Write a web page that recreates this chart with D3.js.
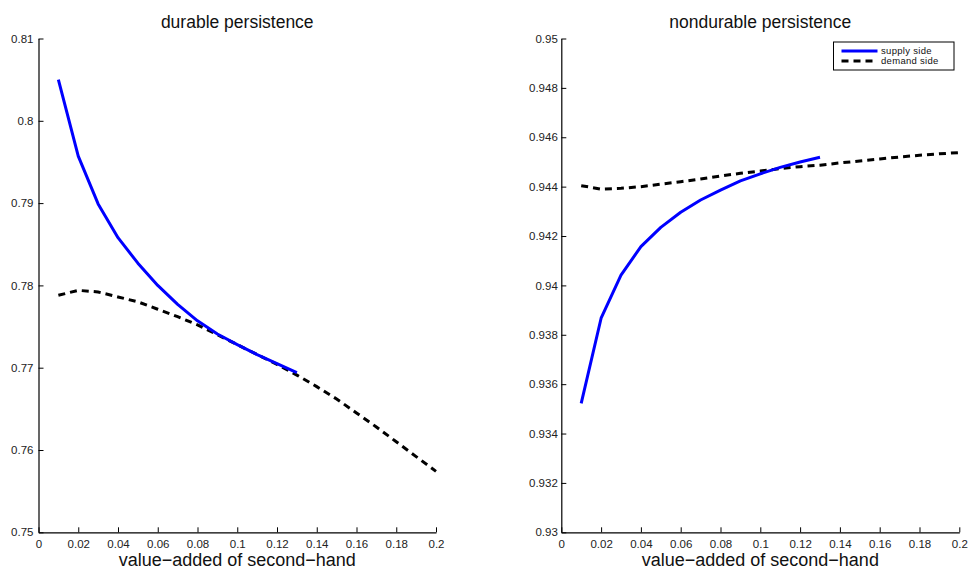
<!DOCTYPE html>
<html>
<head>
<meta charset="utf-8">
<script src="https://cdn.jsdelivr.net/npm/d3@7"></script>
<style>
  body { margin: 0; background: #fff; }
  svg { display: block; font-family: "Liberation Sans", Arial, sans-serif; }
</style>
</head>
<body>
<svg id="chart" width="972" height="571"></svg>
<script>
// x values (value-added of second-hand)
var xSupply = [0.01, 0.02, 0.03, 0.04, 0.05, 0.06, 0.07, 0.08, 0.09, 0.10, 0.11, 0.12, 0.13];
var xDemand = [0.01, 0.02, 0.03, 0.04, 0.05, 0.06, 0.07, 0.08, 0.09, 0.10,
               0.11, 0.12, 0.13, 0.14, 0.15, 0.16, 0.17, 0.18, 0.19, 0.20];

// durable persistence
var durSupply = [0.8050, 0.7957, 0.7899, 0.7858, 0.7827, 0.7800, 0.7777,
                 0.7757, 0.7741, 0.7728, 0.7716, 0.7705, 0.7694];
var durDemand = [0.7788, 0.7794, 0.7792, 0.7786, 0.7780, 0.7771, 0.7762, 0.7752, 0.7740, 0.7728,
                 0.7716, 0.7704, 0.7691, 0.7677, 0.7662, 0.7645, 0.7628, 0.7610, 0.7592, 0.7574];

// nondurable persistence
var nonSupply = [0.93522, 0.93867, 0.94042, 0.94157, 0.94235, 0.94296, 0.94346,
                 0.94386, 0.94423, 0.94452, 0.94478, 0.94500, 0.94519];
var nonDemand = [0.94404, 0.94390, 0.94393, 0.94400, 0.94410, 0.94420, 0.94431, 0.94443, 0.94454, 0.94463,
                 0.94473, 0.94481, 0.94487, 0.94496, 0.94504, 0.94512, 0.94520, 0.94527, 0.94533, 0.94538];

var xTicks = [0, 0.02, 0.04, 0.06, 0.08, 0.1, 0.12, 0.14, 0.16, 0.18, 0.2];
var durTicks = [0.75, 0.76, 0.77, 0.78, 0.79, 0.8, 0.81];
var nonTicks = [0.93, 0.932, 0.934, 0.936, 0.938, 0.94, 0.942, 0.944, 0.946, 0.948, 0.95];

var seriesNames = ["supply side", "demand side"];
var xLabel = "value\u2212added of second\u2212hand";

var svg = d3.select("#chart");
var yTop = 38.5, yBottom = 532.3;

var panels = [
  { title: "durable persistence", left: 38.5, right: 436, yDomain: [0.75, 0.81], yTicks: durTicks,
    fmt: d3.format(".2~f"), pad: 5, supply: durSupply, demand: durDemand, legend: false },
  { title: "nondurable persistence", left: 561.3, right: 959.3, yDomain: [0.93, 0.95], yTicks: nonTicks,
    fmt: d3.format(".3~f"), pad: 3.5, supply: nonSupply, demand: nonDemand, legend: true }
];

panels.forEach(function(p) {
  var x = d3.scaleLinear().domain([0, 0.2]).range([p.left, p.right]);
  var y = d3.scaleLinear().domain(p.yDomain).range([yBottom, yTop]);
  var g = svg.append("g");

  // axes, ticks pointing inward like matlab
  var xAxis = g.append("g")
    .attr("transform", "translate(0," + yBottom + ")")
    .call(d3.axisBottom(x).tickValues(xTicks).tickSizeInner(-5).tickSizeOuter(0)
      .tickPadding(8).tickFormat(d3.format("~g")));
  var yAxis = g.append("g")
    .attr("transform", "translate(" + p.left + ",0)")
    .call(d3.axisLeft(y).tickValues(p.yTicks).tickSizeInner(-5).tickSizeOuter(0)
      .tickPadding(p.pad).tickFormat(p.fmt));

  [xAxis, yAxis].forEach(function(a) {
    a.selectAll("path").attr("stroke", "#000").attr("stroke-width", 1.2);
    a.selectAll("line").attr("stroke", "#000").attr("stroke-width", 1);
    a.selectAll("text").attr("fill", "#222").style("font-size", "11.5px")
      .style("font-family", "Liberation Sans, Arial, sans-serif");
  });

  var line = d3.line().x(function(d) { return x(d[0]); }).y(function(d) { return y(d[1]); });

  g.append("path")
    .datum(d3.zip(xDemand, p.demand))
    .attr("d", line)
    .attr("fill", "none")
    .attr("stroke", "#000")
    .attr("stroke-width", 3)
    .attr("stroke-dasharray", "7,5");

  g.append("path")
    .datum(d3.zip(xSupply, p.supply))
    .attr("d", line)
    .attr("fill", "none")
    .attr("stroke", "#0000ff")
    .attr("stroke-width", 3)
    .attr("stroke-linejoin", "round");

  g.append("text")
    .attr("x", (p.left + p.right) / 2)
    .attr("y", 27.5)
    .attr("text-anchor", "middle")
    .style("font-size", "17.5px")
    .attr("fill", "#111")
    .text(p.title);

  g.append("text")
    .attr("x", (p.left + p.right) / 2)
    .attr("y", 566)
    .attr("text-anchor", "middle")
    .style("font-size", "18px")
    .attr("fill", "#111")
    .text(xLabel);

  if (p.legend) {
    var lg = g.append("g").attr("transform", "translate(833.5,42)");
    lg.append("rect").attr("width", 120.5).attr("height", 28)
      .attr("fill", "#fff").attr("stroke", "#000").attr("stroke-width", 1);
    seriesNames.forEach(function(name, i) {
      var yy = 9 + i * 10;
      lg.append("line").attr("x1", 8).attr("x2", 44).attr("y1", yy).attr("y2", yy)
        .attr("stroke", i == 0 ? "#0000ff" : "#000").attr("stroke-width", 3)
        .attr("stroke-dasharray", i == 0 ? null : "7,5");
      lg.append("text").attr("x", 47.5).attr("y", yy + 3.3)
        .style("font-size", "9.5px").style("letter-spacing", "0.3px")
        .attr("fill", "#111").text(name);
    });
  }
});
</script>
</body>
</html>
